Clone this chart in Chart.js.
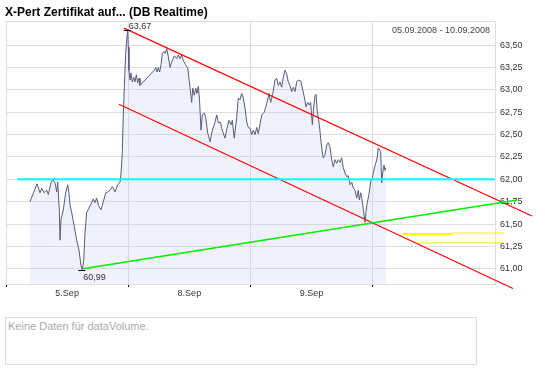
<!DOCTYPE html>
<html>
<head>
<meta charset="utf-8">
<script src="https://cdn.jsdelivr.net/npm/chart.js@4/dist/chart.umd.min.js"></script>
<style>
  body { margin: 0; background: #fff; }
  #wrap { position: relative; width: 545px; height: 370px; overflow: hidden; }
  #title { position: absolute; left: 5px; top: 5px; font: bold 12px "Liberation Sans", Arial, sans-serif; color: #000; white-space: nowrap; }
  #range { position: absolute; right: 55px; top: 25px; font: 9px "Liberation Sans", Arial, sans-serif; color: #444; }
  #chart { position: absolute; left: 0; top: 0; }
  #volume { position: absolute; left: 5px; top: 317px; width: 468px; height: 46px; border: 1px solid #ddd;
            font: 11px "Liberation Sans", Arial, sans-serif; color: #aaa; padding: 0 0 0 2px; line-height: 16px; }
</style>
</head>
<body>
<div id="wrap">
  <canvas id="chart" width="545" height="310"></canvas>
  <div id="title">X-Pert Zertifikat auf... (DB Realtime)</div>
  <div id="range">05.09.2008 - 10.09.2008</div>
  <div id="volume">Keine Daten für dataVolume.</div>
</div>
<script>
// Price chart data (x = trading day index, fractional)
const dayLabels = ['5.Sep', '8.Sep', '9.Sep', ''];
const yTicks = [61.00, 61.25, 61.50, 61.75, 62.00, 62.25, 62.50, 62.75, 63.00, 63.25, 63.50];

const times = [
  0.196,0.254,0.278,0.292,0.311,0.333,0.346,0.368,0.382,0.401,
  0.415,0.423,0.436,0.442,0.450,0.469,0.488,0.505,0.515,0.524,
  0.537,0.559,0.578,0.597,0.613,0.624,0.636,0.646,0.660,0.679,
  0.701,0.714,0.728,0.742,0.755,0.777,0.796,0.816,0.832,0.851,
  0.870,0.892,0.914,0.933,0.941,0.951,0.960,0.968,0.979,0.987,
  0.996,1.000,1.006,1.014,1.022,1.033,1.045,1.055,1.066,1.077,
  1.088,1.096,1.213,1.225,1.235,1.246,1.257,1.268,1.279,1.292,
  1.301,1.315,1.328,1.342,1.355,1.377,1.396,1.409,1.423,1.437,
  1.450,1.470,1.486,1.505,1.519,1.527,1.540,1.552,1.562,1.573,
  1.583,1.595,1.606,1.622,1.634,1.650,1.669,1.688,1.704,1.724,
  1.737,1.753,1.769,1.791,1.808,1.824,1.840,1.851,1.867,1.887,
  1.900,1.914,1.928,1.941,1.955,1.969,1.982,1.996,2.010,2.023,
  2.037,2.051,2.064,2.092,2.113,2.133,2.151,2.165,2.182,2.200,
  2.214,2.227,2.241,2.255,2.268,2.282,2.296,2.309,2.323,2.337,
  2.350,2.364,2.378,2.391,2.411,2.424,2.440,2.454,2.468,2.481,
  2.492,2.506,2.514,2.528,2.536,2.546,2.563,2.574,2.587,2.595,
  2.609,2.623,2.636,2.650,2.664,2.677,2.691,2.705,2.718,2.732,
  2.746,2.759,2.773,2.787,2.800,2.814,2.828,2.841,2.855,2.869,
  2.882,2.890,2.902,2.915,2.923,2.937,2.945,2.955,2.969,2.983,
  2.997,3.010,3.027,3.037,3.045,3.053,3.065,3.073,3.081,3.092,
  3.100,3.108
];

const prices = [
  61.75,61.95,61.85,61.90,61.85,61.88,61.83,61.96,62.00,61.96,
  61.86,61.97,61.66,61.32,61.55,61.66,61.85,61.94,61.85,61.71,
  61.63,61.47,61.32,61.21,61.04,60.99,61.10,61.40,61.63,61.68,
  61.74,61.78,61.74,61.79,61.71,61.66,61.75,61.85,61.86,61.88,
  61.92,61.86,61.94,61.97,62.07,62.29,62.74,63.03,63.41,63.56,
  63.67,63.48,63.22,63.11,63.19,63.09,63.14,63.09,63.17,63.08,
  63.13,63.05,63.22,63.25,63.20,63.25,63.20,63.28,63.41,63.43,
  63.41,63.46,63.37,63.25,63.31,63.38,63.35,63.39,63.35,63.39,
  63.33,63.28,63.25,63.03,62.86,63.02,62.94,63.02,62.96,63.04,
  62.89,62.55,62.72,62.74,62.69,62.52,62.42,62.55,62.61,62.72,
  62.63,62.64,62.55,62.46,62.57,62.66,62.61,62.66,62.46,62.69,
  62.91,62.89,62.96,62.91,62.80,62.64,62.58,62.57,62.50,62.55,
  62.50,62.58,62.51,62.72,62.75,62.85,62.96,62.86,62.95,63.11,
  63.13,63.05,63.09,63.03,63.14,63.22,63.18,63.09,63.05,62.98,
  63.03,62.98,63.09,63.11,63.10,63.02,62.92,62.81,62.86,62.83,
  62.86,62.61,62.77,62.94,62.95,62.77,62.61,62.46,62.31,62.24,
  62.27,62.38,62.41,62.36,62.22,62.14,62.22,62.18,62.22,62.19,
  62.24,62.13,62.07,62.03,62.04,61.94,61.97,61.90,61.88,61.79,
  61.88,61.77,61.85,61.75,61.66,61.52,61.64,61.74,61.83,61.97,
  62.02,62.11,62.19,62.25,62.35,62.34,62.31,61.96,62.07,62.16,
  62.10,62.13
];

// Drawn trend / support lines: [x, value] end points
const upperTrend = [[0.965, 63.69], [4.303, 61.59]];
const lowerTrend = [[0.924, 62.84], [4.147, 60.78]];
const supportLine = [[0.630, 61.00], [4.180, 61.77]];
const levelLine = [[0.090, 62.00], [4.000, 62.00]];
const yellowA = [[3.239, 61.39], [3.656, 61.39]];
const yellowB = [[3.656, 61.40], [4.074, 61.40]];
const yellowC = [[3.362, 61.29], [4.074, 61.29]];

const yMin = 60.83;
const yMax = 63.77;

const fmt = v => v.toFixed(2).replace('.', ',');
const toPts = arr => arr.map(([x, y]) => ({ x, y }));

function lineSet(arr, color, width) {
  return {
    data: toPts(arr),
    borderColor: color,
    borderWidth: width,
    pointRadius: 0,
    fill: false,
    clip: false,
    order: 1
  };
}

// frame around plot + min/max markers with labels
const extremesPlugin = {
  id: 'extremes',
  beforeDatasetsDraw(chart) {
    const { ctx, chartArea: a } = chart;
    ctx.save();
    ctx.strokeStyle = '#ddd';
    ctx.lineWidth = 1;
    ctx.strokeRect(a.left + 0.5, a.top + 0.5, a.right - a.left, a.bottom - a.top);
    ctx.restore();
  },
  afterDatasetsDraw(chart) {
    const { ctx, scales } = chart;
    let iMax = 0, iMin = 0;
    prices.forEach((p, i) => {
      if (p > prices[iMax]) iMax = i;
      if (p < prices[iMin]) iMin = i;
    });
    ctx.save();
    ctx.font = '9px "Liberation Sans", Arial, sans-serif';
    ctx.fillStyle = '#333';
    ctx.strokeStyle = '#000';
    ctx.lineWidth = 1;
    [[iMax, true], [iMin, false]].forEach(([i, top]) => {
      const x = scales.x.getPixelForValue(times[i]);
      const y = Math.round(scales.y.getPixelForValue(prices[i])) + 0.5;
      ctx.beginPath();
      ctx.moveTo(x - 4, y);
      ctx.lineTo(x + 3, y);
      ctx.stroke();
      if (top) {
        ctx.textBaseline = 'bottom';
        ctx.fillText(fmt(prices[i]), x + 1, y + 1);
      } else {
        ctx.textBaseline = 'top';
        ctx.fillText(fmt(prices[i]), x + 1, y + 3);
      }
    });
    ctx.restore();
  }
};

const isDay = v => Math.abs(v - Math.round(v)) < 1e-6;

new Chart(document.getElementById('chart'), {
  type: 'line',
  data: {
    datasets: [
      {
        data: times.map((t, i) => ({ x: t, y: prices[i] })),
        borderColor: '#565b78',
        borderWidth: 1,
        pointRadius: 0,
        tension: 0,
        fill: 'start',
        backgroundColor: 'rgba(200, 200, 240, 0.25)',
        order: 10
      },
      lineSet(levelLine, '#00ffff', 2),
      lineSet(supportLine, '#00ee00', 1.5),
      lineSet(upperTrend, '#ff0000', 1.2),
      lineSet(lowerTrend, '#ff0000', 1.2),
      lineSet(yellowA, '#ffff00', 2),
      lineSet(yellowB, '#ffee00', 1),
      lineSet(yellowC, '#ffee00', 1)
    ]
  },
  options: {
    responsive: false,
    animation: false,
    layout: { padding: { left: 6, top: 21, right: 0, bottom: 0 } },
    plugins: { legend: { display: false }, tooltip: { enabled: false } },
    scales: {
      x: {
        type: 'linear',
        min: 0,
        max: dayLabels.length,
        afterBuildTicks(scale) {
          const t = [];
          dayLabels.forEach((d, i) => { t.push({ value: i }); t.push({ value: i + 0.5 }); });
          t.push({ value: dayLabels.length });
          scale.ticks = t;
        },
        afterFit(scale) { scale.height = 26; },
        grid: {
          color: c => (c.tick && isDay(c.tick.value) ? '#ddd' : 'transparent'),
          tickColor: c => (c.tick && isDay(c.tick.value) && c.tick.value < dayLabels.length ? '#000' : 'transparent'),
          tickLength: 3
        },
        border: { color: '#ddd' },
        ticks: {
          autoSkip: false,
          maxRotation: 0,
          padding: 1,
          color: '#333',
          font: { family: '"Liberation Sans", Arial, sans-serif', size: 9 },
          callback: v => (isDay(v) ? '' : dayLabels[Math.floor(v)])
        }
      },
      y: {
        position: 'right',
        min: yMin,
        max: yMax,
        afterBuildTicks(scale) { scale.ticks = yTicks.map(v => ({ value: v })); },
        afterFit(scale) { scale.width = 50; },
        grid: { color: '#ddd', drawTicks: false },
        border: { color: '#ddd' },
        ticks: {
          padding: 5,
          color: '#333',
          font: { family: '"Liberation Sans", Arial, sans-serif', size: 9 },
          callback: v => fmt(v)
        }
      }
    }
  },
  plugins: [extremesPlugin]
});
</script>
</body>
</html>
